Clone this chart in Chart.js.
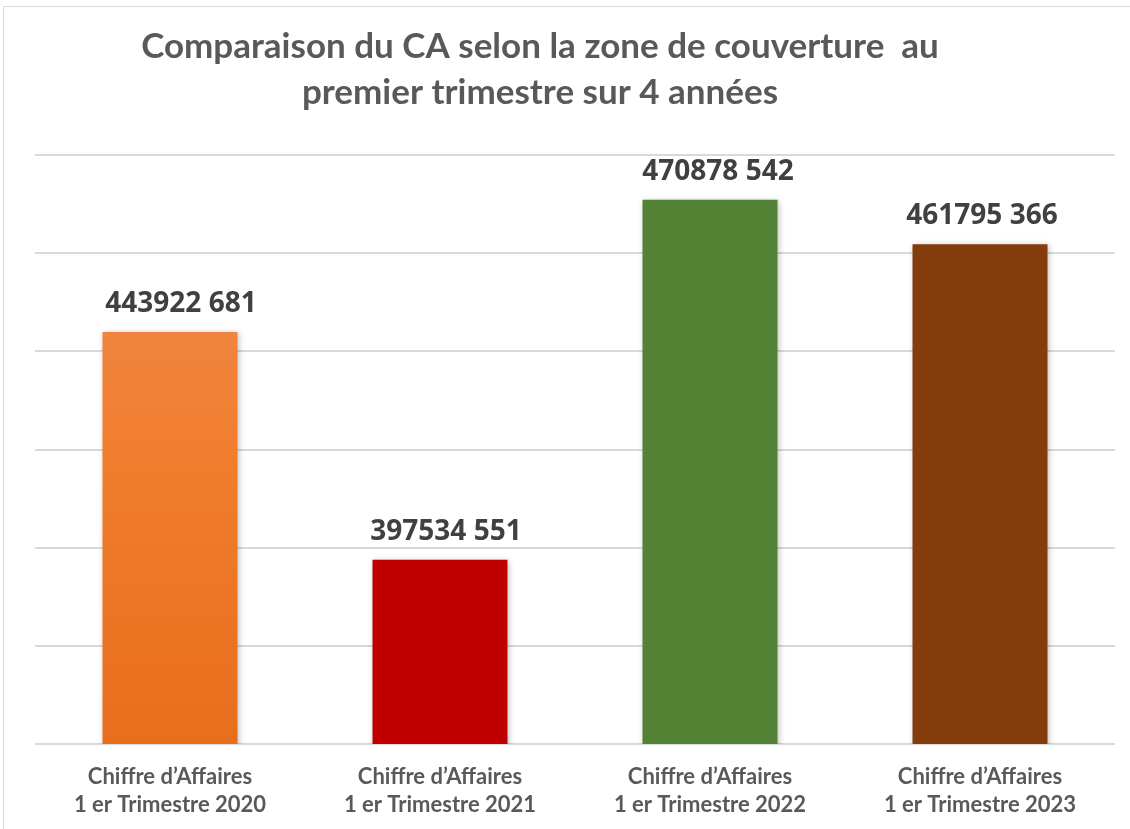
<!DOCTYPE html>
<html>
<head>
<meta charset="utf-8">
<script src="https://cdn.jsdelivr.net/npm/chart.js@4"></script>
<style>
  html, body { margin: 0; padding: 0; background: #fff; }
  #wrap { width: 1130px; height: 829px; }
</style>
</head>
<body>
<div id="wrap"><canvas id="caChart" width="1130" height="829"></canvas></div>
<script>
// Data
const categories = [
    ['Chiffre d\u2019Affaires', '1 er Trimestre 2020'],
    ['Chiffre d\u2019Affaires', '1 er Trimestre 2021'],
    ['Chiffre d\u2019Affaires', '1 er Trimestre 2022'],
    ['Chiffre d\u2019Affaires', '1 er Trimestre 2023']
];
const revenues = [443922681, 397534551, 470878542, 461795366];
const valueLabels = ['443922 681', '397534 551', '470878 542', '461795 366'];
const barColors = ['#EE7B30', '#C00000', '#548235', '#843C0C'];
const titleLines = ['Comparaison du CA selon la zone de couverture  au', 'premier trimestre sur 4 ann\u00e9es'];

const canvas = document.getElementById('caChart');

// outer frame + title (title sits a bit left of the plot centre, like the original)
const framePlugin = {
    id: 'frame',
    beforeDraw(chart) {
        const ctx = chart.ctx;
        ctx.save();
        ctx.fillStyle = '#fff';
        ctx.fillRect(0, 0, chart.width, chart.height);
        ctx.strokeStyle = '#d9d9d9';
        ctx.lineWidth = 1;
        ctx.strokeRect(3.5, 6.5, chart.width + 10, chart.height + 10);

        ctx.fillStyle = '#595959';
        ctx.font = 'bold 35px Lato, "Open Sans", sans-serif';
        ctx.textAlign = 'center';
        ctx.textBaseline = 'middle';
        titleLines.forEach((line, i) => {
            ctx.fillText(line, 540, 47 + i * 46);
        });
        ctx.restore();
    }
};

// soft shadow under bars
const shadowPlugin = {
    id: 'barShadow',
    beforeDatasetDraw(chart) {
        const ctx = chart.ctx;
        ctx.save();
        ctx.shadowColor = 'rgba(0,0,0,0.25)';
        ctx.shadowBlur = 6;
        ctx.shadowOffsetX = 1;
        ctx.shadowOffsetY = 1;
    },
    afterDatasetDraw(chart) {
        chart.ctx.restore();
    }
};

// value labels above the bars (hand-placed slightly right in the original)
const labelNudge = [11, 6, 8, 2];
const valueLabelPlugin = {
    id: 'valueLabels',
    afterDatasetsDraw(chart) {
        const ctx = chart.ctx;
        const meta = chart.getDatasetMeta(0);
        ctx.save();
        ctx.font = 'bold 28px "Open Sans", sans-serif';
        ctx.fillStyle = '#404040';
        ctx.textAlign = 'center';
        ctx.textBaseline = 'alphabetic';
        meta.data.forEach((bar, i) => {
            ctx.fillText(valueLabels[i], bar.x + labelNudge[i], bar.y - 20);
        });
        ctx.restore();
    }
};

function firstBarFill(context) {
    const i = context.dataIndex;
    if (i !== 0) return barColors[i];
    const chart = context.chart;
    const area = chart.chartArea;
    if (!area) return barColors[0];
    const bar = chart.getDatasetMeta(0).data[0];
    const top = bar && bar.y ? bar.y : area.top;
    const g = chart.ctx.createLinearGradient(0, top, 0, area.bottom);
    g.addColorStop(0, '#F08E58');
    g.addColorStop(0.5, '#F07E2E');
    g.addColorStop(1, '#E86E1C');
    return g;
}

new Chart(canvas, {
    type: 'bar',
    data: {
        labels: categories,
        datasets: [{
            data: revenues,
            backgroundColor: firstBarFill,
            borderWidth: 0,
            barPercentage: 0.5,
            categoryPercentage: 1.0
        }]
    },
    options: {
        responsive: false,
        animation: false,
        layout: {
            padding: { left: 35, right: 15, top: 155, bottom: -9 }
        },
        plugins: {
            legend: { display: false },
            tooltip: { enabled: false },
            title: { display: false }
        },
        scales: {
            y: {
                min: 360000000,
                max: 480000000,
                ticks: { display: false, stepSize: 20000000 },
                grid: { color: '#d9d9d9', lineWidth: 2, drawTicks: false },
                border: { display: false }
            },
            x: {
                grid: { display: false, drawTicks: false },
                border: { display: false },
                ticks: {
                    color: '#595959',
                    padding: 19,
                    font: { family: 'Lato, "Open Sans", sans-serif', size: 22, weight: 'bold', lineHeight: 1.27 }
                }
            }
        }
    },
    plugins: [framePlugin, shadowPlugin, valueLabelPlugin]
});
</script>
</body>
</html>
